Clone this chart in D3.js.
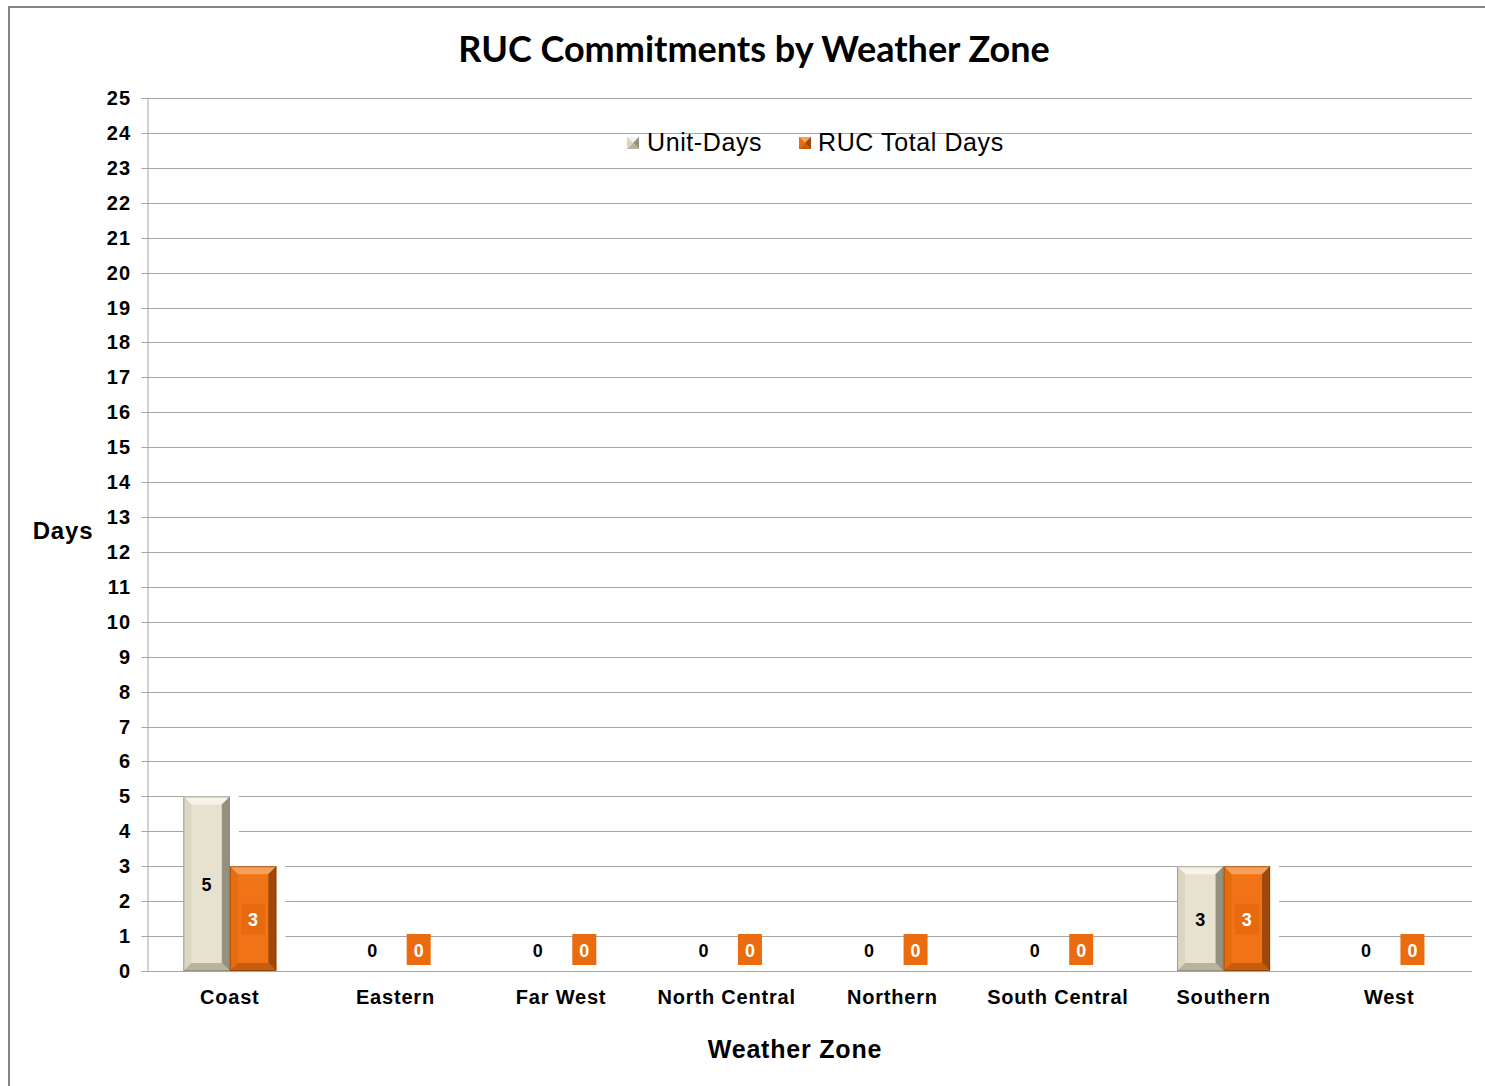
<!DOCTYPE html>
<html>
<head>
<meta charset="utf-8">
<script src="https://cdn.jsdelivr.net/npm/d3@7"></script>
<style>
  body { margin: 0; background: #fff; }
  text { font-family: "Liberation Sans", Arial, sans-serif; }
</style>
</head>
<body>
<div id="chart"></div>
<script>
// chart data
var zones = ["Coast", "Eastern", "Far West", "North Central", "Northern", "South Central", "Southern", "West"];
var unitDays = [5, 0, 0, 0, 0, 0, 3, 0];
var rucTotalDays = [3, 0, 0, 0, 0, 0, 3, 0];
var seriesNames = ["Unit-Days", "RUC Total Days"];
var yTicks = d3.range(0, 26);

// set the dimensions and margins of the graph
var W = 1485, H = 1086;
var margin = { top: 98, right: 13, bottom: 115, left: 147 },
    width = W - margin.left - margin.right,
    height = H - margin.top - margin.bottom;

var svg = d3.select("#chart")
    .append("svg")
    .attr("width", W)
    .attr("height", H);

// outer frame (left + top only)
svg.append("path")
    .attr("d", "M9,1086 L9,7 L1485,7")
    .attr("fill", "none")
    .attr("stroke", "#858585")
    .attr("stroke-width", 2);

var g = svg.append("g")
    .attr("transform", "translate(" + margin.left + "," + margin.top + ")");

// scales
var x = d3.scaleBand().domain(zones).range([0, width]);
var y = d3.scaleLinear().domain([0, 25]).range([height, 0]);
var barW = 46.5;

// gridlines
g.append("g")
    .selectAll("line")
    .data(yTicks)
    .enter().append("line")
    .attr("x1", 0)
    .attr("x2", width)
    .attr("y1", function (d) { return Math.round(y(d)) + 0.5; })
    .attr("y2", function (d) { return Math.round(y(d)) + 0.5; })
    .attr("stroke", "#a6a6a6")
    .attr("stroke-width", 1);

// Y axis
var yAxis = g.append("g")
    .attr("transform", "translate(0.5,0)")
    .call(d3.axisLeft(y).tickValues(yTicks).tickSize(6).tickPadding(10));
yAxis.select(".domain").attr("stroke", "#a6a6a6");
yAxis.selectAll(".tick line").attr("stroke", "#a6a6a6");
yAxis.selectAll(".tick text")
    .style("font-size", "20px")
    .style("font-weight", "bold")
    .style("letter-spacing", "1.3px")
    .attr("fill", "#000");
yAxis.selectAll(".tick").attr("transform", function (d) {
    return "translate(0," + (Math.round(y(d)) + 0.5) + ")";
});

// X axis labels
g.append("g")
    .selectAll("text")
    .data(zones)
    .enter().append("text")
    .attr("x", function (d) { return x(d) + x.bandwidth() / 2; })
    .attr("y", height + 33)
    .attr("text-anchor", "middle")
    .style("font-size", "20px")
    .style("font-weight", "bold")
    .style("letter-spacing", "0.8px")
    .text(function (d) { return d; });

// bevelled bar
var palettes = [
    { face: "#e7e2cf", top: "#f6f3e8", left: "#dbd6c2", right: "#959180", bottom: "#b8b39e", edge: "#7d7968" },
    { face: "#f07416", top: "#f7a158", left: "#e56c10", right: "#9e4909", bottom: "#c65c0e", edge: "#7a3806" }
];

function drawBar(sel, x0, y0, w, h, p) {
    if (h <= 0) return;
    var b = Math.min(8, h / 2, w / 2);
    var x1 = x0 + w, y1 = y0 + h;
    // white halo on right side
    sel.append("rect").attr("x", x1).attr("y", y0 - 1).attr("width", 9).attr("height", h + 1).attr("fill", "#fff");
    sel.append("rect").attr("x", x0).attr("y", y0).attr("width", w).attr("height", h).attr("fill", p.face);
    var poly = function (pts, c) {
        sel.append("polygon").attr("points", pts.map(function (q) { return q.join(","); }).join(" ")).attr("fill", c);
    };
    poly([[x0, y0], [x1, y0], [x1 - b, y0 + b], [x0 + b, y0 + b]], p.top);
    poly([[x0, y0], [x0 + b, y0 + b], [x0 + b, y1 - b], [x0, y1]], p.left);
    poly([[x1, y0], [x1, y1], [x1 - b, y1 - b], [x1 - b, y0 + b]], p.right);
    poly([[x0, y1], [x0 + b, y1 - b], [x1 - b, y1 - b], [x1, y1]], p.bottom);
    sel.append("rect").attr("x", x0 + 0.5).attr("y", y0 + 0.5).attr("width", w - 1).attr("height", h - 1)
        .attr("fill", "none").attr("stroke", p.edge).attr("stroke-width", 1).attr("stroke-opacity", 0.6);
}

var bars = g.append("g");
var labels = g.append("g");
[unitDays, rucTotalDays].forEach(function (series, si) {
    series.forEach(function (v, i) {
        var cx = x(zones[i]) + x.bandwidth() / 2;
        var bx = cx - barW + si * barW;
        drawBar(bars, bx, y(v), barW, y(0) - y(v), palettes[si]);
        var ly = v > 0 ? (y(v) + y(0)) / 2 + 1 : y(0) - 21;
        var lx = bx + barW / 2;
        if (si === 1) {
            labels.append("rect")
                .attr("x", lx - 12).attr("y", ly - 16)
                .attr("width", 24).attr("height", 31)
                .attr("fill", v > 0 ? "#e86a10" : "#ea6c0e");
        }
        labels.append("text")
            .attr("x", lx)
            .attr("y", ly + 6.5)
            .attr("text-anchor", "middle")
            .style("font-size", "18px")
            .style("font-weight", "bold")
            .attr("fill", si === 1 ? "#fff" : "#000")
            .text(v);
    });
});

// legend
var legendX = [627, 799];
seriesNames.forEach(function (name, i) {
    var lg = svg.append("g").attr("transform", "translate(" + legendX[i] + ",137)");
    var p = palettes[i];
    lg.append("rect").attr("width", 12).attr("height", 12).attr("fill", p.face);
    lg.append("polygon").attr("points", "0,0 12,0 6,6").attr("fill", p.top);
    lg.append("polygon").attr("points", "12,0 12,12 6,6").attr("fill", p.right);
    lg.append("polygon").attr("points", "0,12 12,12 6,6").attr("fill", p.bottom);
    lg.append("polygon").attr("points", "0,0 0,12 6,6").attr("fill", p.left);
    lg.append("text")
        .attr("x", i === 0 ? 20 : 19)
        .attr("y", 14)
        .style("font-size", "25px")
        .style("letter-spacing", "0.6px")
        .attr("fill", "#000")
        .text(name);
});

// Title
svg.append("text")
    .attr("x", 754)
    .attr("y", 62)
    .attr("text-anchor", "middle")
    .style("font-family", "Lato, 'Open Sans', sans-serif")
    .style("font-size", "36px")
    .style("font-weight", "bold")
    .text("RUC Commitments by Weather Zone");

// axis titles
svg.append("text")
    .attr("x", 63)
    .attr("y", 539)
    .attr("text-anchor", "middle")
    .style("font-size", "24px")
    .style("font-weight", "bold")
    .style("letter-spacing", "0.8px")
    .text("Days");

svg.append("text")
    .attr("x", 795)
    .attr("y", 1058)
    .attr("text-anchor", "middle")
    .style("font-size", "25px")
    .style("font-weight", "bold")
    .style("letter-spacing", "0.8px")
    .text("Weather Zone");
</script>
</body>
</html>
